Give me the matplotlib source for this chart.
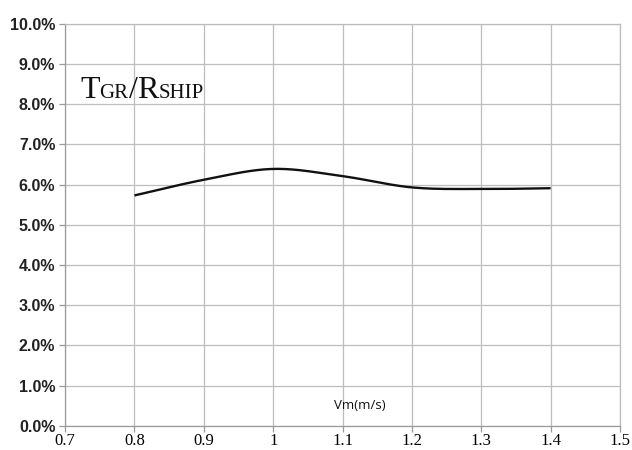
import matplotlib
matplotlib.use('Agg')
import matplotlib.pyplot as plt
import numpy as np
from matplotlib.offsetbox import TextArea, HPacker, AnnotationBbox
from matplotlib.ticker import FuncFormatter, MultipleLocator

# data (Vm in m/s, ratio in %)
vm = [0.8, 0.9, 1.0, 1.1, 1.2, 1.3, 1.4]
ratio = [5.73, 6.12, 6.39, 6.21, 5.93, 5.89, 5.91]

x_ticks = [0.7, 0.8, 0.9, 1.0, 1.1, 1.2, 1.3, 1.4, 1.5]
x_labels = ['0.7', '0.8', '0.9', '1', '1.1', '1.2', '1.3', '1.4', '1.5']


def smooth(xs, ys, n=30):
    # Catmull-Rom spline, like Excel's smoothed line
    xs = np.asarray(xs, float)
    ys = np.asarray(ys, float)
    px = np.concatenate([[2 * xs[0] - xs[1]], xs, [2 * xs[-1] - xs[-2]]])
    py = np.concatenate([[2 * ys[0] - ys[1]], ys, [2 * ys[-1] - ys[-2]]])
    ox, oy = [], []
    t = np.linspace(0, 1, n)
    for i in range(1, len(px) - 2):
        for arr, out in ((px, ox), (py, oy)):
            p0, p1, p2, p3 = arr[i - 1], arr[i], arr[i + 1], arr[i + 2]
            out.extend(0.5 * ((2 * p1) + (-p0 + p2) * t +
                              (2 * p0 - 5 * p1 + 4 * p2 - p3) * t ** 2 +
                              (-p0 + 3 * p1 - 3 * p2 + p3) * t ** 3))
    return np.array(ox), np.array(oy)


fig = plt.figure(figsize=(6.32, 4.5), dpi=100)
ax = fig.add_axes([0.103, 0.054, 0.878, 0.893])

sx, sy = smooth(vm, ratio)
ax.plot(sx, sy, color='#111111', lw=1.7, solid_capstyle='butt')

ax.set_xlim(0.7, 1.5)
ax.set_ylim(0, 10)
ax.set_xticks(x_ticks)
ax.set_xticklabels(x_labels, family='Liberation Serif', fontsize=12)
ax.yaxis.set_major_locator(MultipleLocator(1))
ax.yaxis.set_major_formatter(FuncFormatter(lambda v, p: f'{v:.1f}%'))
for lab in ax.get_yticklabels():
    lab.set_family('Liberation Sans')
    lab.set_fontweight('bold')
    lab.set_fontsize(11.5)
    lab.set_color('#222222')

ax.grid(True, color='#bdbdbd', lw=0.9)
for s in ax.spines.values():
    s.set_color('#bdbdbd')
    s.set_linewidth(0.9)
ax.spines['left'].set_color('#9a9a9a')
ax.spines['bottom'].set_color('#9a9a9a')
ax.tick_params(axis='both', direction='out', length=4, color='#9a9a9a', width=0.9)
ax.tick_params(axis='x', pad=1)
ax.tick_params(axis='y', pad=3)

ax.text(1.087, 0.5, 'Vm(m/s)', family='Open Sans', fontsize=9.5,
        va='center', ha='left', color='#111111')

# title with small caps
parts = [('T', 23), ('GR', 15), ('/', 23), ('R', 23), ('SHIP', 15)]
areas = [TextArea(s, textprops=dict(family='Liberation Serif', fontsize=fs, color='#111111'))
         for s, fs in parts]
box = HPacker(children=areas, align='baseline', pad=0, sep=0)
ab = AnnotationBbox(box, (0.027, 0.835), xycoords='axes fraction', frameon=False,
                    box_alignment=(0, 0.5))
ax.add_artist(ab)

fig.savefig('out.png', dpi=100, facecolor='white')
